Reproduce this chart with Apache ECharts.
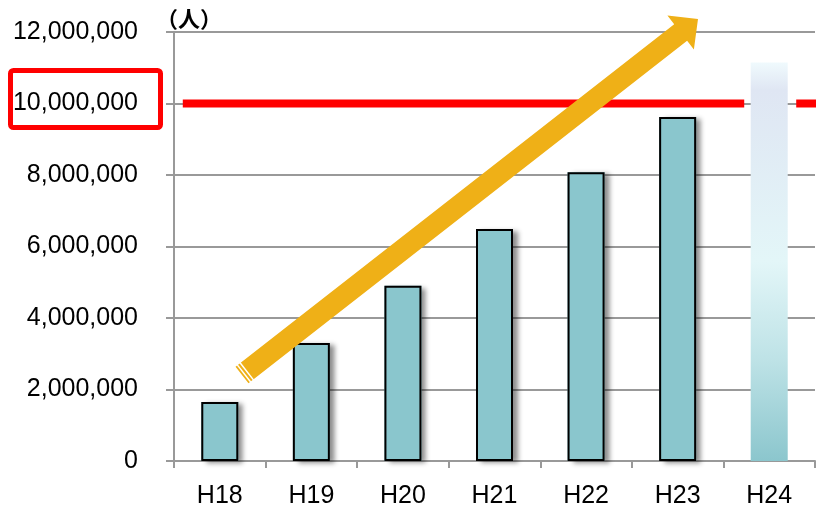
<!DOCTYPE html>
<html><head><meta charset="utf-8">
<script src="https://cdn.jsdelivr.net/npm/echarts@6/dist/echarts.min.js"></script>
<style>html,body{margin:0;padding:0;background:#fff}#c{width:816px;height:505px}</style>
</head><body><div id="c"></div>
<script>
const categories = ['H18','H19','H20','H21','H22','H23','H24'];
const actualValues = [1650000, 3300000, 4900000, 6490000, 8080000, 9620000, null];
const targetValues = [null, null, null, null, null, null, 11150000];
const goalValue = 10000000;
const yTicks = { min: 0, max: 12000000, interval: 2000000 };
const unitLabel = '（人）';

const FONT = '"Liberation Sans", Arial, sans-serif';
const chart = echarts.init(document.getElementById('c'));
const shadow = { shadowBlur: 5, shadowOffsetX: 5, shadowOffsetY: 2, shadowColor: 'rgba(0,0,0,0.45)' };

chart.setOption({
  animation: false,
  grid: { left: 174, right: 1, top: 32, bottom: 44, outerBoundsMode: 'none', containLabel: false },
  xAxis: {
    type: 'category', data: categories,
    axisLine: { lineStyle: { color: '#999', width: 2 } },
    axisTick: { show: true, length: 7, lineStyle: { color: '#999', width: 2 } },
    axisLabel: { color: '#000', fontSize: 25, fontFamily: FONT, margin: 23 }
  },
  yAxis: {
    type: 'value', min: yTicks.min, max: yTicks.max, interval: yTicks.interval,
    axisLine: { show: true, lineStyle: { color: '#999', width: 2 } },
    axisTick: { show: true, length: 8, lineStyle: { color: '#999', width: 2 } },
    splitLine: { lineStyle: { color: '#999', width: 2 } },
    axisLabel: {
      color: '#000', fontSize: 25, fontFamily: FONT, margin: 36,
      formatter: v => v.toLocaleString('en-US')
    }
  },
  series: [
    {
      type: 'bar', data: actualValues, barWidth: 37, z: 1, silent: true,
      itemStyle: Object.assign({ color: '#8ac6cd' }, shadow)
    },
    {
      type: 'bar', data: actualValues, barWidth: 37, barGap: '-100%', z: 2,
      itemStyle: { color: '#8ac6cd', borderColor: '#000', borderWidth: 2 }
    },
    {
      type: 'bar', data: targetValues, barWidth: 37, barGap: '-100%', z: 3,
      itemStyle: Object.assign({
        color: new echarts.graphic.LinearGradient(0, 0, 0, 1, [
          { offset: 0, color: '#f0fafd' },
          { offset: 0.07, color: '#dfe6f3' },
          { offset: 0.5, color: '#e3f6f8' },
          { offset: 0.75, color: '#bde2e6' },
          { offset: 1, color: '#8bc6cd' }
        ])
      }, shadow)
    }
  ]
});

// decorations positioned from the axes
const yGoal = chart.convertToPixel({ yAxisIndex: 0 }, goalValue);
const x24 = chart.convertToPixel({ xAxisIndex: 0 }, 'H24');
const xStart = chart.convertToPixel({ xAxisIndex: 0 }, 'H18') - 37;
const yTop = chart.convertToPixel({ yAxisIndex: 0 }, yTicks.max);
const xRight = 815;

// arrow
const T = [242, 375], P = [698, 19];
const dx = P[0] - T[0], dy = P[1] - T[1];
const L = Math.hypot(dx, dy);
const d = [dx / L, dy / L], n = [-d[1], d[0]];
const pt = (u, v) => [T[0] + d[0] * u + n[0] * v, T[1] + d[1] * u + n[1] * v];
const hw = 10.5, headL = 22, headW = 21.5;
const arrowPts = [pt(0, -hw), pt(L - headL, -hw), pt(L - headL, -headW), pt(L, 0), pt(L - headL, headW), pt(L - headL, hw), pt(0, hw)];
const stripes = [2.5, 6].map(u => ({
  type: 'line', z: 11,
  shape: { x1: pt(u, -hw - 1)[0], y1: pt(u, -hw - 1)[1], x2: pt(u, hw + 1)[0], y2: pt(u, hw + 1)[1] },
  style: { stroke: '#fff', lineWidth: 1.5 }
}));

chart.setOption({
  graphic: [
    { type: 'line', z: 1, shape: { x1: xStart, y1: yGoal, x2: x24 - 25, y2: yGoal }, style: { stroke: '#ff0000', lineWidth: 8 } },
    { type: 'line', z: 1, shape: { x1: x24 + 27, y1: yGoal, x2: xRight + 2, y2: yGoal }, style: { stroke: '#ff0000', lineWidth: 8 } },
    { type: 'polygon', z: 10, shape: { points: arrowPts }, style: { fill: '#efb017' } },
    ...stripes,
    { type: 'rect', z: 10, shape: { x: 10.5, y: 70.5, width: 150, height: 57, r: 3 }, style: { fill: 'none', stroke: '#ff0000', lineWidth: 5 } },
    { type: 'text', z: 10, left: 156, top: yTop - 24, style: { text: unitLabel, font: 'bold 22px "Noto Sans CJK JP", sans-serif', fill: '#000' } }
  ]
});
</script></body></html>
